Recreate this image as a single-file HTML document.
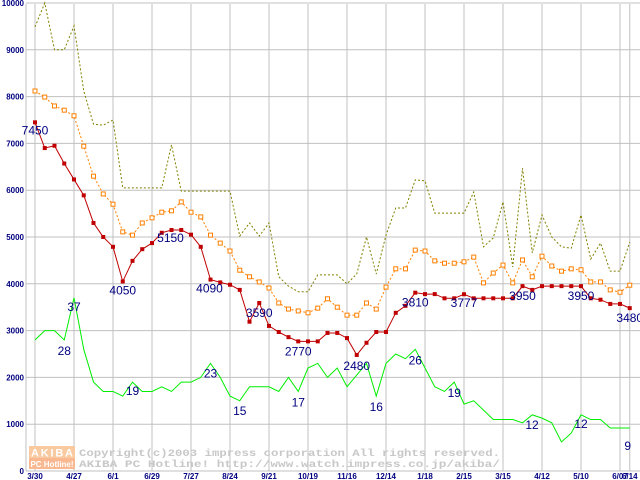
<!DOCTYPE html>
<html><head><meta charset="utf-8"><style>
body{margin:0;background:#fff;}
svg{display:block;font-family:"Liberation Sans",sans-serif;}
</style></head><body>
<svg id="chart" width="640" height="480" viewBox="0 0 640 480" xmlns="http://www.w3.org/2000/svg">
<g id="grid"></g>
<g id="wm">
<rect x="29" y="446" width="46" height="12" fill="#f9c9a0"/>
<rect x="29" y="458" width="46" height="11" fill="#f9b890"/>
<text x="52" y="456.5" font-size="11" fill="#fff" text-anchor="middle" font-weight="bold" textLength="42">AKIBA</text>
<text x="52" y="467" font-size="8" fill="#fff" text-anchor="middle" font-weight="bold">PC Hotline!</text>
<text x="79" y="456" font-size="10.5" fill="#c8c8c8" font-family="Liberation Mono, monospace" font-weight="bold" textLength="421" lengthAdjust="spacingAndGlyphs">Copyright(c)2003 impress corporation All rights reserved.</text>
<text x="79" y="467" font-size="10.5" fill="#c8c8c8" font-family="Liberation Mono, monospace" font-weight="bold" textLength="421" lengthAdjust="spacingAndGlyphs">AKIBA PC Hotline!  http://www.watch.impress.co.jp/akiba/</text>
</g>
<g id="series"></g>
<g id="labels"></g>
</svg>
<script>
const xLabels=["3/30","4/27","6/1","6/29","7/27","8/24","9/21","10/19","11/16","12/14","1/18","2/15","3/15","4/12","5/10","6/07","6/14"];
const yTicks=[0,1000,2000,3000,4000,5000,6000,7000,8000,9000,10000];
const minPrice=[7450,6900,6950,6570,6230,5890,5300,5000,4790,4050,4490,4740,4870,5090,5150,5150,5050,4790,4090,4030,3980,3870,3190,3590,3100,2970,2860,2770,2770,2770,2950,2950,2840,2480,2740,2970,2970,3380,3530,3810,3780,3780,3690,3690,3777,3690,3690,3690,3690,3690,3950,3870,3950,3950,3950,3950,3950,3690,3660,3570,3570,3480];
const avgPrice=[8120,7990,7800,7710,7590,6940,6300,5920,5700,5110,5040,5300,5410,5530,5560,5750,5530,5430,5040,4870,4700,4290,4150,4040,3910,3590,3460,3420,3380,3480,3680,3500,3330,3330,3590,3460,3930,4320,4320,4720,4700,4490,4440,4440,4470,4570,4020,4230,4400,4020,4510,4150,4590,4380,4270,4320,4300,4040,4040,3870,3820,3970];
const maxPrice=[9490,10000,9000,9000,9510,8120,7410,7390,7500,6050,6050,6050,6050,6050,6970,5980,5980,5980,5980,5980,5980,5020,5300,5020,5300,4150,3950,3830,3830,4190,4190,4190,4000,4210,5000,4210,5040,5620,5620,6220,6200,5510,5510,5510,5510,5960,4790,4980,5750,4360,6470,4660,5470,5000,4790,4760,5470,4530,4870,4270,4270,4890];
const shopCount=[28,30,30,28,37,26,19,17,17,16,19,17,17,18,17,19,19,20,23,20,16,15,18,18,18,17,20,17,22,23,20,22,18,20.5,23,16,23,25,24,26,22,18,17,19,14.3,15,13,11,11,11,10.3,12,11.3,10.3,6.2,8.1,12,11,11,9.2,9.2,9.2];
const labelSeries=[["min",0,"7450",0,12],["cnt",3,"28",0,15],["cnt",4,"37",0,13],["min",9,"4050",0,13],["cnt",10,"19",0,13],["min",14,"5150",-1,12],["min",18,"4090",-1,13],["cnt",18,"23",0,14],["cnt",21,"15",0,14],["min",23,"3590",0,14],["cnt",27,"17",0,15],["min",27,"2770",0,14],["min",33,"2480",0,15],["cnt",35,"16",0,15],["min",39,"3810",0,14],["cnt",39,"26",0,15],["min",44,"3777",0,13],["cnt",43,"19",0,15],["min",50,"3950",0,14],["cnt",52,"12",-10,11],["min",56,"3950",0,14],["cnt",56,"12",0,13],["min",61,"3480",0,14],["cnt",61,"9",-2,22]];

const NS="http://www.w3.org/2000/svg";
const X0=35,STEP=9.75,Y0=471,YS=0.0468;
function xs(i){return X0+i*STEP;}
function ys(v){return Y0-v*YS;}
function mk(tag,attrs,parent){const e=document.createElementNS(NS,tag);for(const k in attrs)e.setAttribute(k,attrs[k]);parent.appendChild(e);return e;}
const grid=document.getElementById('grid'),ser=document.getElementById('series'),lab=document.getElementById('labels');
yTicks.forEach(v=>{
  const l=mk('line',{x1:26,x2:640,y1:ys(v),y2:ys(v),stroke:'#c0c0c0','stroke-width':1},grid);
  
  
  const t=mk('text',{x:24,y:ys(v)+3,'text-anchor':'end','font-size':8,'font-weight':'bold',fill:'#000080'},grid);
  t.textContent=v;
  
  
});
mk('line',{x1:26,x2:26,y1:4,y2:471,stroke:'#c0c0c0'},grid);
xLabels.forEach((s,k)=>{
  const idx=k<15?k*4:(k==15?60:61);
  const x=xs(idx);
  const l=mk('line',{x1:x,x2:x,y1:4,y2:471,stroke:'#c0c0c0','stroke-width':1},grid);
  
  
  const t=mk('text',{x:x,y:479,'text-anchor':'middle','font-size':8,'font-weight':'bold',fill:'#000080'},grid);
  t.textContent=s;
  
  
});
function line(data,mult,color,dash,name){
  const p=mk('polyline',{points:data.map((v,i)=>xs(i)+','+ys(v*mult)).join(' '),fill:'none',stroke:color,'stroke-width':1,'stroke-dasharray':dash},ser);
  
  
}
line(maxPrice,1,'#808000','2,2','max-price-line');
line(avgPrice,1,'#ff8000','2,2','avg-price-line');
line(shopCount,100,'#00ee00','none','shop-count-line');
line(minPrice,1,'#c00000','none','min-price-line');
avgPrice.forEach((v,i)=>{
  const r=mk('rect',{x:xs(i)-2,y:ys(v)-2,width:4,height:4,fill:'#fff',stroke:'#ff8000','stroke-width':1},ser);
  
  
});
minPrice.forEach((v,i)=>{
  const r=mk('rect',{x:xs(i)-2,y:ys(v)-2,width:4,height:4,fill:'#c00000'},ser);
  
  
});
labelSeries.forEach(([s,i,txt,dx,dy])=>{
  const v=s=="min"?minPrice[i]:shopCount[i]*100;
  const t=mk('text',{x:xs(i)+dx,y:ys(v)+dy,'text-anchor':'middle','font-size':12,fill:'#000080'},lab);
  t.textContent=txt;
  
  
});
</script>
</body></html>
